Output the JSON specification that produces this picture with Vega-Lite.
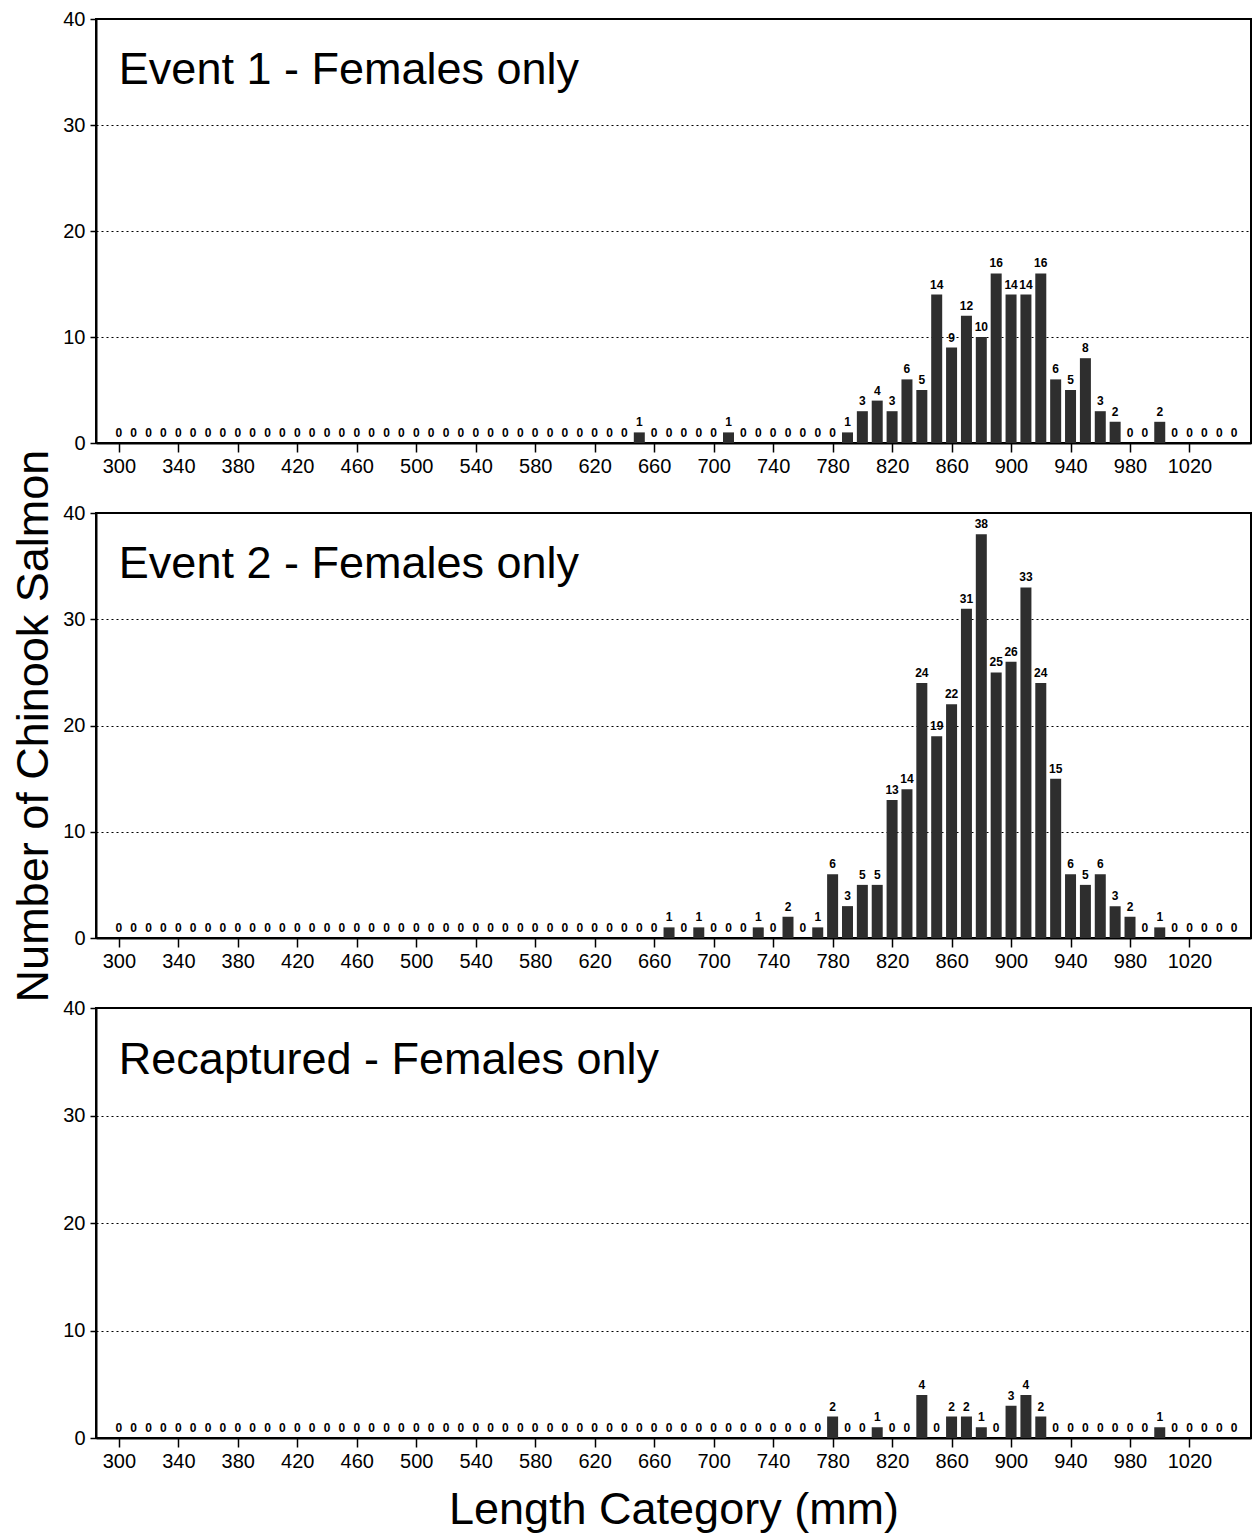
{
  "$schema": "https://vega.github.io/schema/vega-lite/v6.json",
  "background": "white",
  "padding": {"left": 10, "top": 8, "right": 5, "bottom": 5},
  "bounds": "flush",
  "spacing": 70,
  "config": {
    "font": "Liberation Sans",
    "view": {"stroke": "black", "strokeWidth": 2},
    "axis": {
      "labelFont": "Liberation Sans",
      "labelFontSize": 20,
      "labelColor": "black",
      "domainColor": "black",
      "domainWidth": 2,
      "tickColor": "black",
      "tickWidth": 1.5,
      "titleFont": "Liberation Sans",
      "titleFontSize": 45,
      "titleFontWeight": "normal",
      "titleColor": "black"
    }
  },
  "datasets": {
    "event1": [
      {"length": 300, "count": 0}, {"length": 310, "count": 0}, {"length": 320, "count": 0}, {"length": 330, "count": 0},
      {"length": 340, "count": 0}, {"length": 350, "count": 0}, {"length": 360, "count": 0}, {"length": 370, "count": 0},
      {"length": 380, "count": 0}, {"length": 390, "count": 0}, {"length": 400, "count": 0}, {"length": 410, "count": 0},
      {"length": 420, "count": 0}, {"length": 430, "count": 0}, {"length": 440, "count": 0}, {"length": 450, "count": 0},
      {"length": 460, "count": 0}, {"length": 470, "count": 0}, {"length": 480, "count": 0}, {"length": 490, "count": 0},
      {"length": 500, "count": 0}, {"length": 510, "count": 0}, {"length": 520, "count": 0}, {"length": 530, "count": 0},
      {"length": 540, "count": 0}, {"length": 550, "count": 0}, {"length": 560, "count": 0}, {"length": 570, "count": 0},
      {"length": 580, "count": 0}, {"length": 590, "count": 0}, {"length": 600, "count": 0}, {"length": 610, "count": 0},
      {"length": 620, "count": 0}, {"length": 630, "count": 0}, {"length": 640, "count": 0}, {"length": 650, "count": 1},
      {"length": 660, "count": 0}, {"length": 670, "count": 0}, {"length": 680, "count": 0}, {"length": 690, "count": 0},
      {"length": 700, "count": 0}, {"length": 710, "count": 1}, {"length": 720, "count": 0}, {"length": 730, "count": 0},
      {"length": 740, "count": 0}, {"length": 750, "count": 0}, {"length": 760, "count": 0}, {"length": 770, "count": 0},
      {"length": 780, "count": 0}, {"length": 790, "count": 1}, {"length": 800, "count": 3}, {"length": 810, "count": 4},
      {"length": 820, "count": 3}, {"length": 830, "count": 6}, {"length": 840, "count": 5}, {"length": 850, "count": 14},
      {"length": 860, "count": 9}, {"length": 870, "count": 12}, {"length": 880, "count": 10}, {"length": 890, "count": 16},
      {"length": 900, "count": 14}, {"length": 910, "count": 14}, {"length": 920, "count": 16}, {"length": 930, "count": 6},
      {"length": 940, "count": 5}, {"length": 950, "count": 8}, {"length": 960, "count": 3}, {"length": 970, "count": 2},
      {"length": 980, "count": 0}, {"length": 990, "count": 0}, {"length": 1000, "count": 2}, {"length": 1010, "count": 0},
      {"length": 1020, "count": 0}, {"length": 1030, "count": 0}, {"length": 1040, "count": 0}, {"length": 1050, "count": 0}
    ],
    "event2": [
      {"length": 300, "count": 0}, {"length": 310, "count": 0}, {"length": 320, "count": 0}, {"length": 330, "count": 0},
      {"length": 340, "count": 0}, {"length": 350, "count": 0}, {"length": 360, "count": 0}, {"length": 370, "count": 0},
      {"length": 380, "count": 0}, {"length": 390, "count": 0}, {"length": 400, "count": 0}, {"length": 410, "count": 0},
      {"length": 420, "count": 0}, {"length": 430, "count": 0}, {"length": 440, "count": 0}, {"length": 450, "count": 0},
      {"length": 460, "count": 0}, {"length": 470, "count": 0}, {"length": 480, "count": 0}, {"length": 490, "count": 0},
      {"length": 500, "count": 0}, {"length": 510, "count": 0}, {"length": 520, "count": 0}, {"length": 530, "count": 0},
      {"length": 540, "count": 0}, {"length": 550, "count": 0}, {"length": 560, "count": 0}, {"length": 570, "count": 0},
      {"length": 580, "count": 0}, {"length": 590, "count": 0}, {"length": 600, "count": 0}, {"length": 610, "count": 0},
      {"length": 620, "count": 0}, {"length": 630, "count": 0}, {"length": 640, "count": 0}, {"length": 650, "count": 0},
      {"length": 660, "count": 0}, {"length": 670, "count": 1}, {"length": 680, "count": 0}, {"length": 690, "count": 1},
      {"length": 700, "count": 0}, {"length": 710, "count": 0}, {"length": 720, "count": 0}, {"length": 730, "count": 1},
      {"length": 740, "count": 0}, {"length": 750, "count": 2}, {"length": 760, "count": 0}, {"length": 770, "count": 1},
      {"length": 780, "count": 6}, {"length": 790, "count": 3}, {"length": 800, "count": 5}, {"length": 810, "count": 5},
      {"length": 820, "count": 13}, {"length": 830, "count": 14}, {"length": 840, "count": 24}, {"length": 850, "count": 19},
      {"length": 860, "count": 22}, {"length": 870, "count": 31}, {"length": 880, "count": 38}, {"length": 890, "count": 25},
      {"length": 900, "count": 26}, {"length": 910, "count": 33}, {"length": 920, "count": 24}, {"length": 930, "count": 15},
      {"length": 940, "count": 6}, {"length": 950, "count": 5}, {"length": 960, "count": 6}, {"length": 970, "count": 3},
      {"length": 980, "count": 2}, {"length": 990, "count": 0}, {"length": 1000, "count": 1}, {"length": 1010, "count": 0},
      {"length": 1020, "count": 0}, {"length": 1030, "count": 0}, {"length": 1040, "count": 0}, {"length": 1050, "count": 0}
    ],
    "recap": [
      {"length": 300, "count": 0}, {"length": 310, "count": 0}, {"length": 320, "count": 0}, {"length": 330, "count": 0},
      {"length": 340, "count": 0}, {"length": 350, "count": 0}, {"length": 360, "count": 0}, {"length": 370, "count": 0},
      {"length": 380, "count": 0}, {"length": 390, "count": 0}, {"length": 400, "count": 0}, {"length": 410, "count": 0},
      {"length": 420, "count": 0}, {"length": 430, "count": 0}, {"length": 440, "count": 0}, {"length": 450, "count": 0},
      {"length": 460, "count": 0}, {"length": 470, "count": 0}, {"length": 480, "count": 0}, {"length": 490, "count": 0},
      {"length": 500, "count": 0}, {"length": 510, "count": 0}, {"length": 520, "count": 0}, {"length": 530, "count": 0},
      {"length": 540, "count": 0}, {"length": 550, "count": 0}, {"length": 560, "count": 0}, {"length": 570, "count": 0},
      {"length": 580, "count": 0}, {"length": 590, "count": 0}, {"length": 600, "count": 0}, {"length": 610, "count": 0},
      {"length": 620, "count": 0}, {"length": 630, "count": 0}, {"length": 640, "count": 0}, {"length": 650, "count": 0},
      {"length": 660, "count": 0}, {"length": 670, "count": 0}, {"length": 680, "count": 0}, {"length": 690, "count": 0},
      {"length": 700, "count": 0}, {"length": 710, "count": 0}, {"length": 720, "count": 0}, {"length": 730, "count": 0},
      {"length": 740, "count": 0}, {"length": 750, "count": 0}, {"length": 760, "count": 0}, {"length": 770, "count": 0},
      {"length": 780, "count": 2}, {"length": 790, "count": 0}, {"length": 800, "count": 0}, {"length": 810, "count": 1},
      {"length": 820, "count": 0}, {"length": 830, "count": 0}, {"length": 840, "count": 4}, {"length": 850, "count": 0},
      {"length": 860, "count": 2}, {"length": 870, "count": 2}, {"length": 880, "count": 1}, {"length": 890, "count": 0},
      {"length": 900, "count": 3}, {"length": 910, "count": 4}, {"length": 920, "count": 2}, {"length": 930, "count": 0},
      {"length": 940, "count": 0}, {"length": 950, "count": 0}, {"length": 960, "count": 0}, {"length": 970, "count": 0},
      {"length": 980, "count": 0}, {"length": 990, "count": 0}, {"length": 1000, "count": 1}, {"length": 1010, "count": 0},
      {"length": 1020, "count": 0}, {"length": 1030, "count": 0}, {"length": 1040, "count": 0}, {"length": 1050, "count": 0}
    ]
  },
  "vconcat": [
    {
      "width": 1155, "height": 424,
      "layer": [
        {"data": {"name": "event1"}, "mark": {"type": "bar", "size": 11, "fill": "#2e2e2e"},
          "encoding": {
            "x": {"field": "length", "type": "quantitative", "title": null, "scale": {"domain": [288, 1058], "nice": false, "zero": false},
              "axis": {"values": [300,340,380,420,460,500,540,580,620,660,700,740,780,820,860,900,940,980,1020], "format": "d", "grid": false, "tickSize": 9, "labelPadding": 4}},
            "y": {"field": "count", "type": "quantitative", "title": null, "scale": {"domain": [0, 40], "nice": false},
              "axis": {"values": [0,10,20,30,40], "tickSize": 6, "labelPadding": 5, "grid": true, "gridColor": "black", "gridDash": [2, 3], "gridWidth": 1}}
          }},
        {"data": {"name": "event1"}, "mark": {"type": "text", "baseline": "bottom", "dy": -3, "fontSize": 12, "fontWeight": "bold", "fill": "black"},
          "encoding": {
            "x": {"field": "length", "type": "quantitative", "title": null},
            "y": {"field": "count", "type": "quantitative", "title": null},
            "text": {"field": "count", "type": "quantitative"}
          }},
        {"data": {"values": [{"label": "Event 1 - Females only"}]},
          "mark": {"type": "text", "align": "left", "baseline": "middle", "fontSize": 45, "fill": "black"},
          "encoding": {"x": {"datum": 300, "type": "quantitative", "title": null}, "y": {"datum": 35.2, "type": "quantitative", "title": null}, "text": {"field": "label", "type": "nominal"}}}
      ]
    },
    {
      "width": 1155, "height": 425,
      "layer": [
        {"data": {"name": "event2"}, "mark": {"type": "bar", "size": 11, "fill": "#2e2e2e"},
          "encoding": {
            "x": {"field": "length", "type": "quantitative", "title": null, "scale": {"domain": [288, 1058], "nice": false, "zero": false},
              "axis": {"values": [300,340,380,420,460,500,540,580,620,660,700,740,780,820,860,900,940,980,1020], "format": "d", "grid": false, "tickSize": 9, "labelPadding": 4}},
            "y": {"field": "count", "type": "quantitative", "title": "Number of Chinook Salmon", "scale": {"domain": [0, 40], "nice": false},
              "axis": {"titlePadding": 6, "values": [0,10,20,30,40], "tickSize": 6, "labelPadding": 5, "grid": true, "gridColor": "black", "gridDash": [2, 3], "gridWidth": 1}}
          }},
        {"data": {"name": "event2"}, "mark": {"type": "text", "baseline": "bottom", "dy": -3, "fontSize": 12, "fontWeight": "bold", "fill": "black"},
          "encoding": {
            "x": {"field": "length", "type": "quantitative", "title": null},
            "y": {"field": "count", "type": "quantitative", "title": "Number of Chinook Salmon"},
            "text": {"field": "count", "type": "quantitative"}
          }},
        {"data": {"values": [{"label": "Event 2 - Females only"}]},
          "mark": {"type": "text", "align": "left", "baseline": "middle", "fontSize": 45, "fill": "black"},
          "encoding": {"x": {"datum": 300, "type": "quantitative", "title": null}, "y": {"datum": 35.2, "type": "quantitative", "title": "Number of Chinook Salmon"}, "text": {"field": "label", "type": "nominal"}}}
      ]
    },
    {
      "width": 1155, "height": 430,
      "layer": [
        {"data": {"name": "recap"}, "mark": {"type": "bar", "size": 11, "fill": "#2e2e2e"},
          "encoding": {
            "x": {"field": "length", "type": "quantitative", "title": "Length Category (mm)", "scale": {"domain": [288, 1058], "nice": false, "zero": false},
              "axis": {"titlePadding": 16, "values": [300,340,380,420,460,500,540,580,620,660,700,740,780,820,860,900,940,980,1020], "format": "d", "grid": false, "tickSize": 9, "labelPadding": 4}},
            "y": {"field": "count", "type": "quantitative", "title": null, "scale": {"domain": [0, 40], "nice": false},
              "axis": {"values": [0,10,20,30,40], "tickSize": 6, "labelPadding": 5, "grid": true, "gridColor": "black", "gridDash": [2, 3], "gridWidth": 1}}
          }},
        {"data": {"name": "recap"}, "mark": {"type": "text", "baseline": "bottom", "dy": -3, "fontSize": 12, "fontWeight": "bold", "fill": "black"},
          "encoding": {
            "x": {"field": "length", "type": "quantitative", "title": "Length Category (mm)"},
            "y": {"field": "count", "type": "quantitative", "title": null},
            "text": {"field": "count", "type": "quantitative"}
          }},
        {"data": {"values": [{"label": "Recaptured - Females only"}]},
          "mark": {"type": "text", "align": "left", "baseline": "middle", "fontSize": 45, "fill": "black"},
          "encoding": {"x": {"datum": 300, "type": "quantitative", "title": "Length Category (mm)"}, "y": {"datum": 35.2, "type": "quantitative", "title": null}, "text": {"field": "label", "type": "nominal"}}}
      ]
    }
  ]
}
